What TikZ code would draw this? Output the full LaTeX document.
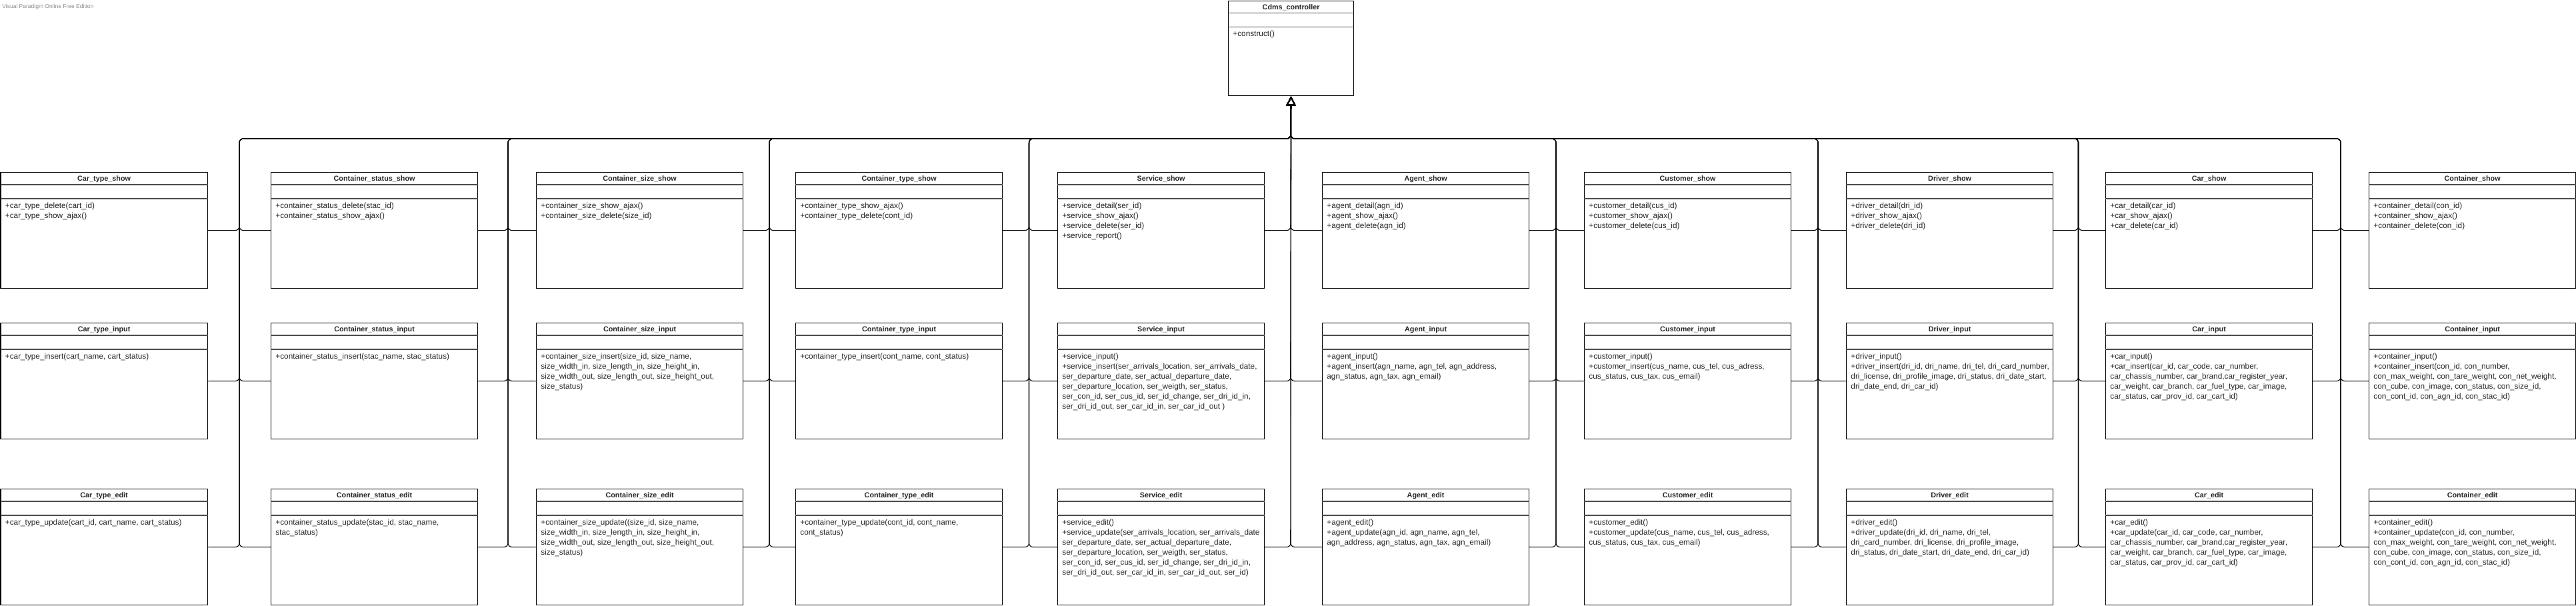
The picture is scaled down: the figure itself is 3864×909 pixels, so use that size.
\documentclass[tikz,border=0pt]{standalone}
\usepackage{fontspec}
\setmainfont{Liberation Sans}
\usetikzlibrary{arrows.meta}
\newcommand\umlbox[5]{%
  \node[umlcls, anchor=north west] (#1) at (#2,#3) {};
  \draw[sepline] ([yshift=-9.5pt]#1.north west) -- ([yshift=-9.5pt]#1.north east);
  \draw[sepline] ([yshift=-20pt]#1.north west) -- ([yshift=-20pt]#1.north east);
  \node[umltitle, anchor=base] (#1t) at ([yshift=-6.75pt]#1.north) {#4};
  \node[umlmeth, anchor=north west] (#1m) at ([xshift=3.5pt,yshift=-21.75pt]#1.north west) {\parbox[t]{200pt}{\raggedright\strut #5}};
}
\begin{document}
\catcode`\_=12
\begin{tikzpicture}[x=0.5pt, y=-0.5pt,
  umlcls/.style={draw=black, line width=0.6pt, rectangle, inner sep=0pt, minimum width=155pt, minimum height=87pt, fill=white},
  sepline/.style={draw=black!70, line width=0.55pt},
  umltitle/.style={inner sep=0pt, font=\fontsize{5.4pt}{6.5pt}\selectfont\bfseries, text=black!85},
  umlmeth/.style={inner sep=0pt, font=\fontsize{5.9pt}{7.5pt}\selectfont, text=black!85},
  conn/.style={draw=black, line width=0.55pt, rounded corners=3pt, -{Triangle[open, length=7pt, width=7pt, line width=0.7pt]}},
  wmark/.style={inner sep=0pt, font=\fontsize{4.25pt}{5pt}\selectfont, text=black!45}]
\useasboundingbox (0,0) rectangle (3864,909);
\fill[white] (0,0) rectangle (3864,909);

\node[wmark, anchor=west] (wm1) at (3,10) {Visual Paradigm Online Free Edition};
\node[wmark, anchor=east] (wm2) at (3861,899) {Visual Paradigm Online Free Edition};

% controller
\node[umlcls, anchor=north west, minimum width=94pt, minimum height=71.25pt] (cdms) at (1842,0.6) {};
\draw[sepline] ([yshift=-9.5pt]cdms.north west) -- ([yshift=-9.5pt]cdms.north east);
\draw[sepline] ([yshift=-20pt]cdms.north west) -- ([yshift=-20pt]cdms.north east);
\node[umltitle, anchor=base] (cdmst) at ([yshift=-6.75pt]cdms.north) {Cdms_controller};
\node[umlmeth, anchor=north west] (cdmsm) at ([xshift=3.5pt,yshift=-21.75pt]cdms.north west) {\parbox[t]{200pt}{\raggedright\strut +construct()}};

% ---- row show
\umlbox{c1s}{0.5}{258}{Car_type_show}{+car_type_delete(cart_id)\\+car_type_show_ajax()}
\umlbox{c2s}{406}{258}{Container_status_show}{+container_status_delete(stac_id)\\+container_status_show_ajax()}
\umlbox{c3s}{804}{258}{Container_size_show}{+container_size_show_ajax()\\+container_size_delete(size_id)}
\umlbox{c4s}{1193}{258}{Container_type_show}{+container_type_show_ajax()\\+container_type_delete(cont_id)}
\umlbox{c5s}{1586}{258}{Service_show}{+service_detail(ser_id)\\+service_show_ajax()\\+service_delete(ser_id)\\+service_report()}
\umlbox{c6s}{1983}{258}{Agent_show}{+agent_detail(agn_id)\\+agent_show_ajax()\\+agent_delete(agn_id)}
\umlbox{c7s}{2376}{258}{Customer_show}{+customer_detail(cus_id)\\+customer_show_ajax()\\+customer_delete(cus_id)}
\umlbox{c8s}{2769}{258}{Driver_show}{+driver_detail(dri_id)\\+driver_show_ajax()\\+driver_delete(dri_id)}
\umlbox{c9s}{3158}{258}{Car_show}{+car_detail(car_id)\\+car_show_ajax()\\+car_delete(car_id)}
\umlbox{c10s}{3553}{258}{Container_show}{+container_detail(con_id)\\+container_show_ajax()\\+container_delete(con_id)}

% ---- row input
\umlbox{c1i}{0.5}{484}{Car_type_input}{+car_type_insert(cart_name, cart_status)}
\umlbox{c2i}{406}{484}{Container_status_input}{+container_status_insert(stac_name, stac_status)}
\umlbox{c3i}{804}{484}{Container_size_input}{+container_size_insert(size_id, size_name,\\size_width_in, size_length_in, size_height_in,\\size_width_out, size_length_out, size_height_out,\\size_status)}
\umlbox{c4i}{1193}{484}{Container_type_input}{+container_type_insert(cont_name, cont_status)}
\umlbox{c5i}{1586}{484}{Service_input}{+service_input()\\+service_insert(ser_arrivals_location, ser_arrivals_date,\\ser_departure_date, ser_actual_departure_date,\\ser_departure_location, ser_weigth, ser_status,\\ser_con_id, ser_cus_id, ser_id_change, ser_dri_id_in,\\ser_dri_id_out, ser_car_id_in, ser_car_id_out )}
\umlbox{c6i}{1983}{484}{Agent_input}{+agent_input()\\+agent_insert(agn_name, agn_tel, agn_address,\\agn_status, agn_tax, agn_email)}
\umlbox{c7i}{2376}{484}{Customer_input}{+customer_input()\\+customer_insert(cus_name, cus_tel, cus_adress,\\cus_status, cus_tax, cus_email)}
\umlbox{c8i}{2769}{484}{Driver_input}{+driver_input()\\+driver_insert(dri_id, dri_name, dri_tel, dri_card_number,\\dri_license, dri_profile_image, dri_status, dri_date_start,\\dri_date_end, dri_car_id)}
\umlbox{c9i}{3158}{484}{Car_input}{+car_input()\\+car_insert(car_id, car_code, car_number,\\car_chassis_number, car_brand,car_register_year,\\car_weight, car_branch, car_fuel_type, car_image,\\car_status, car_prov_id, car_cart_id)}
\umlbox{c10i}{3553}{484}{Container_input}{+container_input()\\+container_insert(con_id, con_number,\\con_max_weight, con_tare_weight, con_net_weight,\\con_cube, con_image, con_status, con_size_id,\\con_cont_id, con_agn_id, con_stac_id)}

% ---- row edit
\umlbox{c1e}{0.5}{733}{Car_type_edit}{+car_type_update(cart_id, cart_name, cart_status)}
\umlbox{c2e}{406}{733}{Container_status_edit}{+container_status_update(stac_id, stac_name,\\stac_status)}
\umlbox{c3e}{804}{733}{Container_size_edit}{+container_size_update((size_id, size_name,\\size_width_in, size_length_in, size_height_in,\\size_width_out, size_length_out, size_height_out,\\size_status)}
\umlbox{c4e}{1193}{733}{Container_type_edit}{+container_type_update(cont_id, cont_name,\\cont_status)}
\umlbox{c5e}{1586}{733}{Service_edit}{+service_edit()\\+service_update(ser_arrivals_location, ser_arrivals_date\\ser_departure_date, ser_actual_departure_date,\\ser_departure_location, ser_weigth, ser_status,\\ser_con_id, ser_cus_id, ser_id_change, ser_dri_id_in,\\ser_dri_id_out, ser_car_id_in, ser_car_id_out, ser_id)}
\umlbox{c6e}{1983}{733}{Agent_edit}{+agent_edit()\\+agent_update(agn_id, agn_name, agn_tel,\\agn_address, agn_status, agn_tax, agn_email)}
\umlbox{c7e}{2376}{733}{Customer_edit}{+customer_edit()\\+customer_update(cus_name, cus_tel, cus_adress,\\cus_status, cus_tax, cus_email)}
\umlbox{c8e}{2769}{733}{Driver_edit}{+driver_edit()\\+driver_update(dri_id, dri_name, dri_tel,\\dri_card_number, dri_license, dri_profile_image,\\dri_status, dri_date_start, dri_date_end, dri_car_id)}
\umlbox{c9e}{3158}{733}{Car_edit}{+car_edit()\\+car_update(car_id, car_code, car_number,\\car_chassis_number, car_brand,car_register_year,\\car_weight, car_branch, car_fuel_type, car_image,\\car_status, car_prov_id, car_cart_id)}
\umlbox{c10e}{3553}{733}{Container_edit}{+container_edit()\\+container_update(con_id, con_number,\\con_max_weight, con_tare_weight, con_net_weight,\\con_cube, con_image, con_status, con_size_id,\\con_cont_id, con_agn_id, con_stac_id)}

% ---- bus coordinates
\coordinate (b1) at (359,208);
\coordinate (b2) at (762,208);
\coordinate (b3) at (1154,208);
\coordinate (b4) at (1543.5,208);
\coordinate (hub) at (1936,208);
\coordinate (b6) at (2334,208);
\coordinate (b7) at (2727,208);
\coordinate (b8) at (3117.5,208);
\coordinate (b9) at (3511,208);

% ---- connectors (generalization to Cdms_controller)
\foreach \j/\k in {1/2,2/3,3/4,4/5}{
  \foreach \r in {s,i,e}{
    \draw[conn] (c\j\r.east) -- (c\j\r.east -| b\j) -- (b\j) -- (hub) -- (cdms.south);
    \draw[conn] (c\k\r.west) -- (c\k\r.west -| b\j) -- (b\j) -- (hub) -- (cdms.south);
  }
}
\foreach \j/\k in {6/7,7/8,8/9,9/10}{
  \foreach \r in {s,i,e}{
    \draw[conn] (c\j\r.east) -- (c\j\r.east -| b\j) -- (b\j) -- (hub) -- (cdms.south);
    \draw[conn] (c\k\r.west) -- (c\k\r.west -| b\j) -- (b\j) -- (hub) -- (cdms.south);
  }
}
\foreach \r in {s,i,e}{
  \draw[conn] (c5\r.east) -- (c5\r.east -| hub) -- (cdms.south);
  \draw[conn] (c6\r.west) -- (c6\r.west -| hub) -- (cdms.south);
}
\end{tikzpicture}
\end{document}
